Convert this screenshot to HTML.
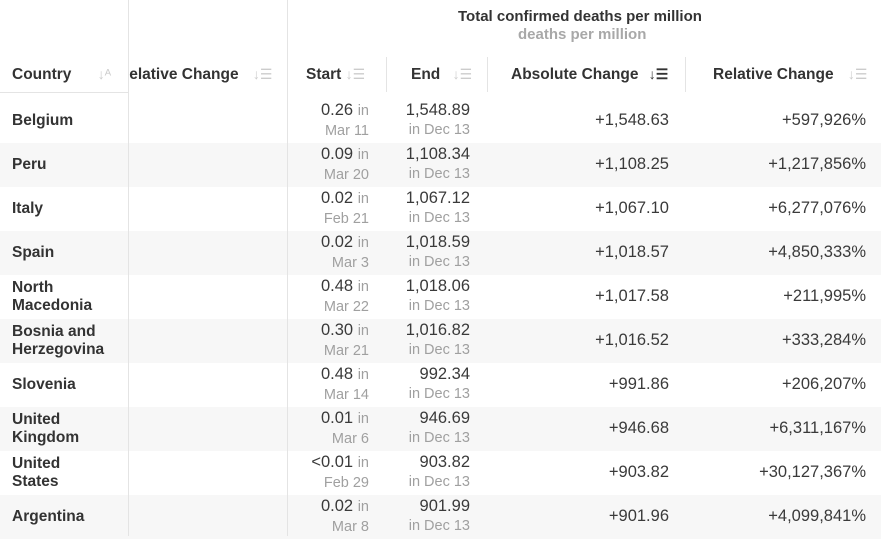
<!DOCTYPE html>
<html><head><meta charset="utf-8"><style>
*{margin:0;padding:0;box-sizing:border-box}
body{width:881px;height:536px;overflow:hidden;background:#fff;font-family:"Liberation Sans",sans-serif;color:#333;position:relative}
.a{position:absolute;white-space:nowrap}
.h{font-weight:bold;font-size:15.5px;color:#333;top:66px}
.ic{color:#ccc;font-size:14px;font-weight:normal}
.row{position:absolute;left:0;width:881px;height:44px}
.g{background:#f7f7f7}
.c{position:absolute;left:12px;font-weight:bold;font-size:15.5px;line-height:18px}
.v{position:absolute;text-align:right;font-size:16.5px;line-height:19px;top:2px;color:#3a3a3a}
.s{color:#a0a0a0;font-size:14.5px}
.n{position:absolute;text-align:right;font-size:16.5px;top:12px;color:#3a3a3a}
.vl{position:absolute;width:1px;background:#e4e4e4}
</style></head><body>
<div class="a" style="left:458px;top:8px;font-weight:bold;font-size:15px;color:#333">Total confirmed deaths per million</div>
<div class="a" style="left:518px;top:26px;font-weight:bold;font-size:15px;color:#a8a8a8">deaths per million</div>

<div class="a h" style="left:12px">Country <span class="ic" style="margin-left:22px">↓ᴬ</span></div>
<div class="a h" style="left:128px;width:159px;overflow:hidden"><span style="margin-left:-10px">Relative Change <span class="ic" style="margin-left:10px">↓☰</span></span></div>
<div class="a h" style="left:306px">Start <span class="ic">↓☰</span></div>
<div class="a h" style="left:411px">End <span class="ic" style="margin-left:8px">↓☰</span></div>
<div class="a h" style="left:511px">Absolute Change <span style="font-size:14px;margin-left:6px">↓☰</span></div>
<div class="a h" style="left:713px">Relative Change <span class="ic" style="margin-left:10px">↓☰</span></div>

<div class="row" style="top:99px"><div class="c" style="top:13px">Belgium</div><div class="v" style="right:512px">0.26 <span class="s">in</span><br><span class="s">Mar 11</span></div><div class="v" style="right:411px">1,548.89<br><span class="s">in Dec 13</span></div><div class="n" style="right:212px">+1,548.63</div><div class="n" style="right:15px">+597,926%</div></div>
<div class="row g" style="top:143px"><div class="c" style="top:13px">Peru</div><div class="v" style="right:512px">0.09 <span class="s">in</span><br><span class="s">Mar 20</span></div><div class="v" style="right:411px">1,108.34<br><span class="s">in Dec 13</span></div><div class="n" style="right:212px">+1,108.25</div><div class="n" style="right:15px">+1,217,856%</div></div>
<div class="row" style="top:187px"><div class="c" style="top:13px">Italy</div><div class="v" style="right:512px">0.02 <span class="s">in</span><br><span class="s">Feb 21</span></div><div class="v" style="right:411px">1,067.12<br><span class="s">in Dec 13</span></div><div class="n" style="right:212px">+1,067.10</div><div class="n" style="right:15px">+6,277,076%</div></div>
<div class="row g" style="top:231px"><div class="c" style="top:13px">Spain</div><div class="v" style="right:512px">0.02 <span class="s">in</span><br><span class="s">Mar 3</span></div><div class="v" style="right:411px">1,018.59<br><span class="s">in Dec 13</span></div><div class="n" style="right:212px">+1,018.57</div><div class="n" style="right:15px">+4,850,333%</div></div>
<div class="row" style="top:275px"><div class="c" style="top:4px">North<br>Macedonia</div><div class="v" style="right:512px">0.48 <span class="s">in</span><br><span class="s">Mar 22</span></div><div class="v" style="right:411px">1,018.06<br><span class="s">in Dec 13</span></div><div class="n" style="right:212px">+1,017.58</div><div class="n" style="right:15px">+211,995%</div></div>
<div class="row g" style="top:319px"><div class="c" style="top:4px">Bosnia and<br>Herzegovina</div><div class="v" style="right:512px">0.30 <span class="s">in</span><br><span class="s">Mar 21</span></div><div class="v" style="right:411px">1,016.82<br><span class="s">in Dec 13</span></div><div class="n" style="right:212px">+1,016.52</div><div class="n" style="right:15px">+333,284%</div></div>
<div class="row" style="top:363px"><div class="c" style="top:13px">Slovenia</div><div class="v" style="right:512px">0.48 <span class="s">in</span><br><span class="s">Mar 14</span></div><div class="v" style="right:411px">992.34<br><span class="s">in Dec 13</span></div><div class="n" style="right:212px">+991.86</div><div class="n" style="right:15px">+206,207%</div></div>
<div class="row g" style="top:407px"><div class="c" style="top:4px">United<br>Kingdom</div><div class="v" style="right:512px">0.01 <span class="s">in</span><br><span class="s">Mar 6</span></div><div class="v" style="right:411px">946.69<br><span class="s">in Dec 13</span></div><div class="n" style="right:212px">+946.68</div><div class="n" style="right:15px">+6,311,167%</div></div>
<div class="row" style="top:451px"><div class="c" style="top:4px">United<br>States</div><div class="v" style="right:512px">&lt;0.01 <span class="s">in</span><br><span class="s">Feb 29</span></div><div class="v" style="right:411px">903.82<br><span class="s">in Dec 13</span></div><div class="n" style="right:212px">+903.82</div><div class="n" style="right:15px">+30,127,367%</div></div>
<div class="row g" style="top:495px"><div class="c" style="top:13px">Argentina</div><div class="v" style="right:512px">0.02 <span class="s">in</span><br><span class="s">Mar 8</span></div><div class="v" style="right:411px">901.99<br><span class="s">in Dec 13</span></div><div class="n" style="right:212px">+901.96</div><div class="n" style="right:15px">+4,099,841%</div></div>

<div class="vl" style="left:128px;top:0;height:536px"></div>
<div class="vl" style="left:287px;top:0;height:536px"></div>
<div class="vl" style="left:386px;top:57px;height:35px"></div>
<div class="vl" style="left:487px;top:57px;height:35px"></div>
<div class="vl" style="left:685px;top:57px;height:35px"></div>
<div class="a" style="left:0;top:92px;width:128px;height:1px;background:#e4e4e4"></div>
</body></html>
